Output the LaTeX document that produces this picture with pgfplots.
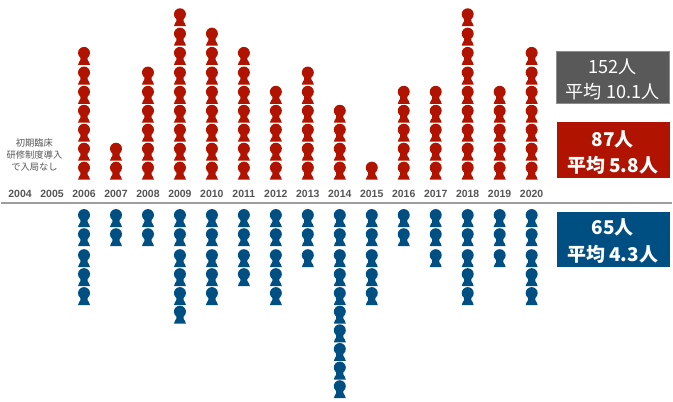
\documentclass[border=0pt]{standalone}
\usepackage{fontspec}
\usepackage{pgfplots}
\pgfplotsset{compat=1.18}
\setmainfont{Noto Sans CJK JP}
\newfontfamily\yearfont{Liberation Sans}
\definecolor{redp}{HTML}{B01400}
\definecolor{bluep}{HTML}{004F82}
\definecolor{boxgray}{HTML}{595959}
\definecolor{boxedge}{HTML}{8C8C8C}
\definecolor{txtgray}{HTML}{555555}
\pgfdeclareplotmark{person}{%
  \pgfpathcircle{\pgfpoint{0pt}{12pt}}{6pt}%
  \pgfusepathqfill
  \pgfpathmoveto{\pgfpoint{-6pt}{0pt}}%
  \pgflineto{\pgfpoint{-5pt}{2.8pt}}%
  \pgflineto{\pgfpoint{-3.6pt}{5pt}}%
  \pgflineto{\pgfpoint{-3.6pt}{8pt}}%
  \pgflineto{\pgfpoint{3.6pt}{8pt}}%
  \pgflineto{\pgfpoint{3.6pt}{5pt}}%
  \pgflineto{\pgfpoint{5pt}{2.8pt}}%
  \pgflineto{\pgfpoint{6pt}{0pt}}%
  \pgfpathclose
  \pgfusepathqfill}
\pgfplotstableread{
year y
2006 23.5
2006 42.5
2006 61.5
2006 80.5
2006 99.5
2006 118.8
2006 138.5
2007 23.5
2007 42.5
2008 23.5
2008 42.5
2008 61.5
2008 80.5
2008 99.5
2008 118.8
2009 23.5
2009 42.5
2009 61.5
2009 80.5
2009 99.5
2009 118.8
2009 138.5
2009 157.8
2009 177.2
2010 23.5
2010 42.5
2010 61.5
2010 80.5
2010 99.5
2010 118.8
2010 138.5
2010 157.8
2011 23.5
2011 42.5
2011 61.5
2011 80.5
2011 99.5
2011 118.8
2011 138.5
2012 23.5
2012 42.5
2012 61.5
2012 80.5
2012 99.5
2013 23.5
2013 42.5
2013 61.5
2013 80.5
2013 99.5
2013 118.8
2014 23.5
2014 42.5
2014 61.5
2014 80.5
2015 23.5
2016 23.5
2016 42.5
2016 61.5
2016 80.5
2016 99.5
2017 23.5
2017 42.5
2017 61.5
2017 80.5
2017 99.5
2018 23.5
2018 42.5
2018 61.5
2018 80.5
2018 99.5
2018 118.8
2018 138.5
2018 157.8
2018 177.2
2019 23.5
2019 42.5
2019 61.5
2019 80.5
2019 99.5
2020 23.5
2020 42.5
2020 61.5
2020 80.5
2020 99.5
2020 118.8
2020 138.5
}\redtable
\pgfplotstableread{
year y
2006 -24
2006 -43.2
2006 -64.2
2006 -83.2
2006 -102.2
2007 -24
2007 -43.2
2008 -24
2008 -43.2
2009 -24
2009 -43.2
2009 -64.2
2009 -83.2
2009 -102.2
2009 -120.8
2010 -24
2010 -43.2
2010 -64.2
2010 -83.2
2010 -102.2
2011 -24
2011 -43.2
2011 -64.2
2011 -83.2
2012 -24
2012 -43.2
2012 -64.2
2012 -83.2
2012 -102.2
2013 -24
2013 -43.2
2013 -64.2
2014 -24
2014 -43.2
2014 -64.2
2014 -83.2
2014 -102.2
2014 -120.8
2014 -139.5
2014 -158.2
2014 -176.8
2014 -195.5
2015 -24
2015 -43.2
2015 -64.2
2015 -83.2
2015 -102.2
2016 -24
2016 -43.2
2017 -24
2017 -43.2
2017 -64.2
2018 -24
2018 -43.2
2018 -64.2
2018 -83.2
2018 -102.2
2019 -24
2019 -43.2
2019 -64.2
2020 -24
2020 -43.2
2020 -64.2
2020 -83.2
2020 -102.2
}\bluetable
\begin{document}
\begin{tikzpicture}
\begin{axis}[
  scale only axis, width=673pt, height=402pt,
  xmin=2003.394, xmax=2024.399, ymin=-198.5, ymax=203.5,
  axis y line=none,
  axis x line=middle,
  axis line style={-, draw=black!38, line width=1.4pt},
  xtick={2004,...,2020}, major tick length=0pt,
  ytick=\empty,
  /pgf/number format/1000 sep={},
  /pgf/number format/assume math mode=true,
  xticklabel style={anchor=center, yshift=9pt, text=txtgray,
    font=\yearfont\bfseries\fontsize{10.5}{10.5}\selectfont},
  clip=false,
]
\path (axis cs:2003.394,-198.5) rectangle (axis cs:2024.399,203.5);
\addplot[only marks, mark=person, color=redp] table[x=year,y=y] {\redtable};
\addplot[only marks, mark=person, color=bluep] table[x=year,y=y] {\bluetable};
\fill[boxgray, draw=boxedge, line width=0.8pt] (axis cs:2020.78,151.5) rectangle (axis cs:2024.32,100.2);
\fill[redp] (axis cs:2020.78,81.5) rectangle (axis cs:2024.32,25);
\fill[bluep] (axis cs:2020.78,-8.5) rectangle (axis cs:2024.32,-64.5);
\tikzset{bt/.style={text=white, font=\bfseries\fontsize{19}{19}\selectfont, inner sep=0pt},
         gt/.style={text=white, font=\fontsize{18.2}{18.2}\selectfont, inner sep=0pt}}
\node[gt] at (axis cs:2022.53,136.2) {152人};
\node[gt] at (axis cs:2022.53,111.8) {平均 10.1人};
\node[bt] at (axis cs:2022.53,63.5) {87人};
\node[bt] at (axis cs:2022.53,37.5) {平均 5.8人};
\node[bt] at (axis cs:2022.53,-24.8) {65人};
\node[bt] at (axis cs:2022.53,-51.5) {平均 4.3人};
\node[text=txtgray, align=center, inner sep=0pt,
  font=\fontsize{9.3}{12}\selectfont] at (axis cs:2004.45,48.5) {初期臨床\\研修制度導入\\で入局なし};
\end{axis}
\end{tikzpicture}
\end{document}
